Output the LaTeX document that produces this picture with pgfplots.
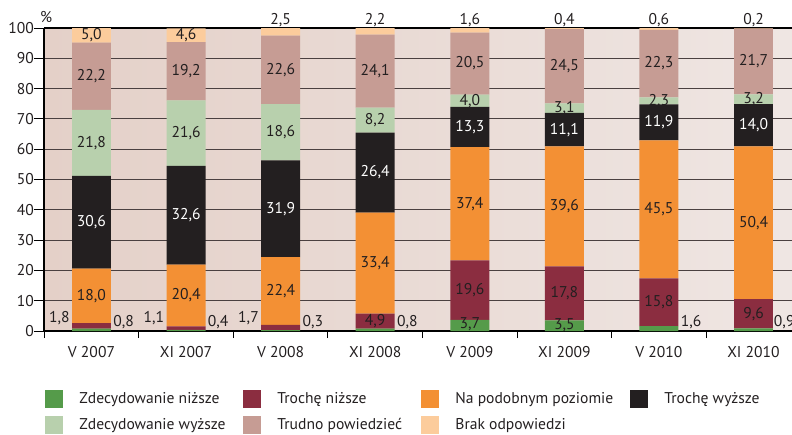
\documentclass[border=0pt]{standalone}
\usepackage{pgfplots}
\pgfplotsset{compat=1.18}
\usepackage{pgfplotstable}
\usepackage{fontspec}
\setmainfont{PT Sans}
\definecolor{cZN}{HTML}{559B4A}
\definecolor{cTN}{HTML}{8B2D40}
\definecolor{cNP}{HTML}{F39034}
\definecolor{cTW}{HTML}{231F20}
\definecolor{cZW}{HTML}{B8D0AD}
\definecolor{cTP}{HTML}{C69C94}
\definecolor{cBO}{HTML}{FCCC9C}
\definecolor{bgL}{HTML}{E4D0C8}
\definecolor{bgR}{HTML}{EFE6E3}
\definecolor{gridc}{HTML}{4A4040}
\definecolor{txt}{HTML}{231F20}

\pgfplotstableread{
cat ZN TN NP TW ZW TP BO
0 0.8 1.8 18.0 30.6 21.8 22.2 5.0
1 0.4 1.1 20.4 32.6 21.6 19.2 4.6
2 0.3 1.7 22.4 31.9 18.6 22.6 2.5
3 0.8 4.9 33.4 26.4 8.2 24.1 2.2
4 3.7 19.6 37.4 13.3 4.0 20.5 1.6
5 3.5 17.8 39.6 11.1 3.1 24.5 0.4
6 1.6 15.8 45.5 11.9 2.3 22.3 0.6
7 0.9 9.6 50.4 14.0 3.2 21.7 0.2
}\data

\pgfplotsset{geom/.style={at={(0,0)}, anchor=south west,
  scale only axis, width=373.9pt, height=151.5pt,
  xmin=-0.5, xmax=7.407, ymin=0, ymax=100}}

\begin{document}
\begin{tikzpicture}[font=\fontsize{7.8}{9}\selectfont, text=txt]
\begin{axis}[
  geom,
  ybar stacked, bar width=0.412,
  axis x line=bottom, axis y line=left,
  axis line style={-, line width=0.8pt, draw=black},
  axis background/.style={left color=bgL, right color=bgR},
  ymajorgrids, grid style={gridc, line width=0.5pt},
  ytick={0,10,...,90}, extra y ticks={100},
  extra y tick style={grid style={black, line width=1pt}},
  xtick={0,...,7},
  xticklabels={V 2007,XI 2007,V 2008,XI 2008,V 2009,XI 2009,V 2010,XI 2010},
  minor xtick={-0.5,0.5,...,6.5},
  major x tick style={draw=none},
  tick align=outside,
  major tick length=5pt, minor tick length=3.5pt,
  tick style={black, line width=0.5pt},
  yticklabel style={inner xsep=0pt},
  xticklabel style={yshift=1pt},
  /pgf/number format/assume math mode=true,
  legend columns=4,
  legend cell align=left,
  legend style={at={(0,0)}, anchor=north west, xshift=0.4pt, yshift=-29.5pt,
    draw=none, fill=none, inner sep=0pt, row sep=4pt, column sep=0pt,
    nodes={inner sep=0pt}},
  legend image code/.code={\fill[#1] (0pt,-4.5pt) rectangle (9pt,4.5pt);},
]
\addplot[fill=cZN, draw=none] table[x=cat,y=ZN]{\data};
\addlegendentry{\makebox[90pt][l]{\hspace*{8pt}Zdecydowanie niższe}}
\addplot[fill=cTN, draw=none] table[x=cat,y=TN]{\data};
\addlegendentry{\makebox[80pt][l]{\hspace*{8pt}Trochę niższe}}
\addplot[fill=cNP, draw=none] table[x=cat,y=NP]{\data};
\addlegendentry{\makebox[95.5pt][l]{\hspace*{8pt}Na podobnym poziomie}}
\addplot[fill=cTW, draw=none] table[x=cat,y=TW]{\data};
\addlegendentry{\hspace*{8pt}Trochę wyższe}
\addplot[fill=cZW, draw=none] table[x=cat,y=ZW]{\data};
\addlegendentry{\makebox[90pt][l]{\hspace*{8pt}Zdecydowanie wyższe}}
\addplot[fill=cTP, draw=none] table[x=cat,y=TP]{\data};
\addlegendentry{\makebox[80pt][l]{\hspace*{8pt}Trudno powiedzieć}}
\addplot[fill=cBO, draw=none] table[x=cat,y=BO]{\data};
\addlegendentry{\makebox[95.5pt][l]{\hspace*{8pt}Brak odpowiedzi}}
\end{axis}

\begin{axis}[geom, hide axis, clip=false]
% percent sign
\node[xshift=1pt, yshift=5.5pt] at (rel axis cs:0,1) {\%};

% category 0
\node at (axis cs:0,11.6) {18,0};
\node[text=white] at (axis cs:0,35.9) {30,6};
\node at (axis cs:0,62.1) {21,8};
\node at (axis cs:0,84.1) {22,2};
\node at (axis cs:0,97.6) {5,0};
\node[anchor=south east, inner sep=1pt] at (axis cs:-0.206,1.2) {1,8};
\node[anchor=south west, inner sep=1pt] at (axis cs:0.206,0) {0,8};
% category 1
\node at (axis cs:1,11.7) {20,4};
\node[text=white] at (axis cs:1,38.2) {32,6};
\node at (axis cs:1,65.3) {21,6};
\node at (axis cs:1,85.7) {19,2};
\node at (axis cs:1,97.5) {4,6};
\node[anchor=south east, inner sep=1pt] at (axis cs:0.794,1.2) {1,1};
\node[anchor=south west, inner sep=1pt] at (axis cs:1.206,0) {0,4};
% category 2
\node at (axis cs:2,13.2) {22,4};
\node[text=white] at (axis cs:2,40.35) {31,9};
\node at (axis cs:2,65.6) {18,6};
\node at (axis cs:2,86.2) {22,6};
\node[anchor=base, yshift=1.5pt] at (axis cs:2,100) {2,5};
\node[anchor=south east, inner sep=1pt] at (axis cs:1.794,1.2) {1,7};
\node[anchor=south west, inner sep=1pt] at (axis cs:2.206,0) {0,3};
% category 3
\node at (axis cs:3,3.25) {4,9};
\node at (axis cs:3,22.4) {33,4};
\node[text=white] at (axis cs:3,52.3) {26,4};
\node at (axis cs:3,69.6) {8,2};
\node at (axis cs:3,85.75) {24,1};
\node[anchor=base, yshift=1.5pt] at (axis cs:3,100) {2,2};
\node[anchor=south west, inner sep=1pt] at (axis cs:3.206,0) {0,8};
% category 4
\node at (axis cs:4,2.3) {3,7};
\node at (axis cs:4,13.5) {19,6};
\node at (axis cs:4,42.0) {37,4};
\node[text=white] at (axis cs:4,67.35) {13,3};
\node at (axis cs:4,76.0) {4,0};
\node at (axis cs:4,88.25) {20,5};
\node[anchor=base, yshift=1.5pt] at (axis cs:4,100) {1,6};
% category 5
\node at (axis cs:5,2.0) {3,5};
\node at (axis cs:5,12.4) {17,8};
\node at (axis cs:5,41.1) {39,6};
\node[text=white] at (axis cs:5,66.45) {11,1};
\node at (axis cs:5,73.55) {3,1};
\node at (axis cs:5,87.35) {24,5};
\node[anchor=base, yshift=1.5pt] at (axis cs:5,100) {0,4};
% category 6
\node[anchor=south west, inner sep=1pt] at (axis cs:6.206,0) {1,6};
\node at (axis cs:6,9.5) {15,8};
\node at (axis cs:6,40.15) {45,5};
\node[text=white] at (axis cs:6,68.85) {11,9};
\node at (axis cs:6,75.95) {2,3};
\node at (axis cs:6,88.25) {22,3};
\node[anchor=base, yshift=1.5pt] at (axis cs:6,100) {0,6};
% category 7
\node[anchor=south west, inner xsep=0.3pt, inner ysep=1pt] at (axis cs:7.206,0) {0,9};
\node at (axis cs:7,5.7) {9,6};
\node at (axis cs:7,35.7) {50,4};
\node[text=white] at (axis cs:7,67.9) {14,0};
\node at (axis cs:7,76.5) {3,2};
\node at (axis cs:7,88.95) {21,7};
\node[anchor=base, yshift=1.5pt] at (axis cs:7,100) {0,2};
\end{axis}
\pgfresetboundingbox
\path[use as bounding box] (-22.1pt,-51.5pt) rectangle (373.9pt,165.5pt);
\end{tikzpicture}
\end{document}
